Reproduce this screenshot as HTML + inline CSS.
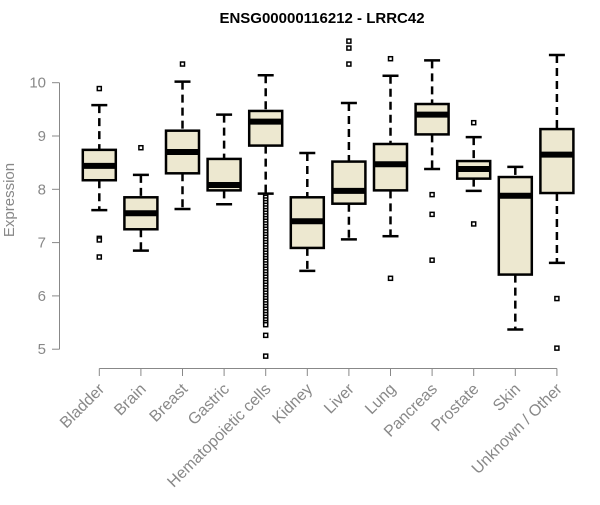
<!DOCTYPE html>
<html><head><meta charset="utf-8"><style>body{margin:0;background:#fff}svg{font-family:"Liberation Sans",Arial,sans-serif}</style></head>
<body>
<svg id="c" width="600" height="500">
<text x="322" y="23" text-anchor="middle" font-weight="bold" font-size="15">ENSG00000116212 - LRRC42</text>
<text transform="translate(14,200) rotate(-90)" text-anchor="middle" font-size="15" fill="#888">Expression</text>
<g id="plot"></g>
</svg>
<script>
const categories=["Bladder","Brain","Breast","Gastric","Hematopoietic cells","Kidney","Liver","Lung","Pancreas","Prostate","Skin","Unknown / Other"];
const whiskerHigh=[9.58,8.27,10.02,9.4,10.14,8.68,9.62,10.13,10.42,8.98,8.42,10.52];
const q3=[8.74,7.85,9.1,8.57,9.47,7.85,8.52,8.85,9.6,8.53,8.23,9.13];
const medians=[8.44,7.55,8.7,8.08,9.27,7.4,7.97,8.47,9.4,8.38,7.88,8.65];
const q1=[8.17,7.25,8.3,7.98,8.82,6.9,7.73,7.98,9.03,8.2,6.4,7.93];
const whiskerLow=[7.61,6.85,7.63,7.72,7.92,6.47,7.06,7.12,8.38,7.97,5.37,6.62];
const outliers=[[9.89,7.08,7.05,6.73],[8.78],[10.35],[],
[7.88,7.85,7.8,7.75,7.7,7.65,7.6,7.55,7.5,7.45,7.4,7.35,7.3,7.25,7.2,7.15,7.1,7.05,7.0,6.95,6.9,6.85,6.8,6.75,6.7,6.65,6.6,6.55,6.5,6.45,6.4,6.35,6.3,6.25,6.2,6.15,6.1,6.05,6.0,5.95,5.9,5.85,5.8,5.75,5.7,5.65,5.6,5.55,5.5,5.46,5.26,4.87],
[],[10.78,10.65,10.35],[10.45,6.33],[7.9,7.53,6.67],[9.25,7.35],[],[5.95,5.02]];
const yTicks=[5,6,7,8,9,10];
const y=v=>82.7+(10-v)*53.3;
const x=i=>99.3+i*41.6;
const NS="http://www.w3.org/2000/svg";
const g=document.getElementById('plot');
function mk(t,a){const e=document.createElementNS(NS,t);for(const k in a)e.setAttribute(k,a[k]);g.appendChild(e);return e;}
let e=mk('line',{x1:59.5,x2:59.5,y1:y(10),y2:y(5),stroke:'#888'});

yTicks.forEach(t=>{
 let l=mk('line',{x1:52,x2:59.5,y1:y(t),y2:y(t),stroke:'#888'});
 
 let tx=mk('text',{x:46,y:y(t)+5,'text-anchor':'end','font-size':15,fill:'#888'});tx.textContent=t;
 
});
e=mk('line',{x1:x(0),x2:x(categories.length-1),y1:368.5,y2:368.5,stroke:'#888'});

categories.forEach((c,i)=>{
 const cx=x(i);
 let l=mk('line',{x1:cx,x2:cx,y1:368.5,y2:376,stroke:'#888'});
 
 let tx=mk('text',{transform:`translate(${cx+6},${390}) rotate(-45)`,'text-anchor':'end','font-size':16,fill:'#888'});tx.textContent=c;
 
 let w=mk('line',{x1:cx,x2:cx,y1:y(whiskerHigh[i]),y2:y(q3[i]),stroke:'#000','stroke-width':2.5,'stroke-dasharray':'8,5'});
 
 w=mk('line',{x1:cx,x2:cx,y1:y(q1[i]),y2:y(whiskerLow[i]),stroke:'#000','stroke-width':2.5,'stroke-dasharray':'8,5'});
 
 [whiskerHigh[i],whiskerLow[i]].forEach(v=>{let c2=mk('line',{x1:cx-8,x2:cx+8,y1:y(v),y2:y(v),stroke:'#000','stroke-width':2.5});
 });
 let b=mk('rect',{x:cx-16.5,y:y(q3[i]),width:33,height:y(q1[i])-y(q3[i]),fill:'#ede8d0',stroke:'#000','stroke-width':2.5});
 
 let m=mk('line',{x1:cx-16.5,x2:cx+16.5,y1:y(medians[i]),y2:y(medians[i]),stroke:'#000','stroke-width':6});
 
 outliers[i].forEach(v=>{let o=mk('rect',{x:cx-2,y:y(v)-2,width:4,height:4,fill:'#fff',stroke:'#000','stroke-width':1.5});
 });
});
</script>
</body></html>
